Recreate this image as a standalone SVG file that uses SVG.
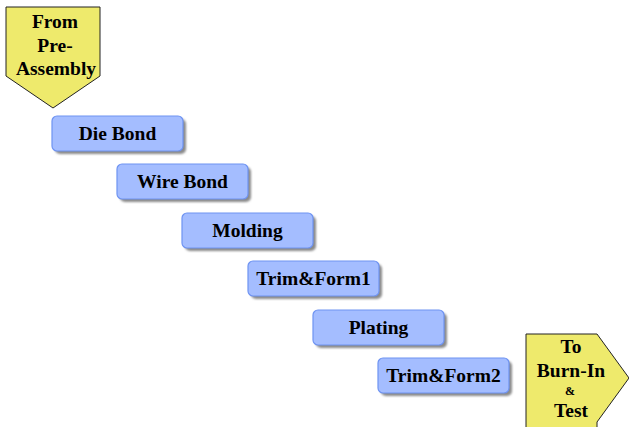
<svg xmlns="http://www.w3.org/2000/svg" width="629" height="427" viewBox="0 0 629 427">
<style>
.box{fill:#a4bdff;stroke:#6e93f2;stroke-width:1.2}
.shadow{fill:#8a8a8a}
.lbl{font-family:"Liberation Serif","Times New Roman",serif;font-weight:bold;font-size:19.5px;fill:#000;text-anchor:middle}
.tag{fill:#eeea6c;stroke:#222;stroke-width:1}
.sm{font-size:12px}
</style>
<defs>
<filter id="blur" x="-10%" y="-20%" width="120%" height="140%"><feGaussianBlur stdDeviation="1"/></filter>
</defs>
<rect width="629" height="427" fill="#fff"/>
<g id="from">
<polygon class="tag" points="6,7 100,7 100,76 53,108 6,76"/>
<text class="lbl" x="55" y="28">From</text>
<text class="lbl" x="55" y="52">Pre-</text>
<text class="lbl" x="56" y="75">Assembly</text>
</g>
<g id="diebond">
<rect class="shadow" x="55" y="119" width="131" height="35" rx="5" filter="url(#blur)"/>
<rect class="box" x="52" y="116" width="131" height="35" rx="5"/>
<text class="lbl" x="117.5" y="140">Die Bond</text>
</g>
<g id="wirebond">
<rect class="shadow" x="120" y="167" width="131" height="35" rx="5" filter="url(#blur)"/>
<rect class="box" x="117" y="164" width="131" height="35" rx="5"/>
<text class="lbl" x="182.5" y="188">Wire Bond</text>
</g>
<g id="molding">
<rect class="shadow" x="185" y="216" width="131" height="35" rx="5" filter="url(#blur)"/>
<rect class="box" x="182" y="213" width="131" height="35" rx="5"/>
<text class="lbl" x="247.5" y="237">Molding</text>
</g>
<g id="trimform1">
<rect class="shadow" x="251" y="264" width="131" height="35" rx="5" filter="url(#blur)"/>
<rect class="box" x="248" y="261" width="131" height="35" rx="5"/>
<text class="lbl" x="313.5" y="285">Trim&amp;Form1</text>
</g>
<g id="plating">
<rect class="shadow" x="316" y="313" width="131" height="35" rx="5" filter="url(#blur)"/>
<rect class="box" x="313" y="310" width="131" height="35" rx="5"/>
<text class="lbl" x="378.5" y="334">Plating</text>
</g>
<g id="trimform2">
<rect class="shadow" x="381" y="361" width="131" height="35" rx="5" filter="url(#blur)"/>
<rect class="box" x="378" y="358" width="131" height="35" rx="5"/>
<text class="lbl" x="443.5" y="382">Trim&amp;Form2</text>
</g>
<g id="to">
<polygon class="tag" points="526,334 597,334 629,378 597,422 597,432 526,432"/>
<text class="lbl" x="571" y="353">To</text>
<text class="lbl" x="571" y="377">Burn-In</text>
<text class="lbl sm" x="570" y="395">&amp;</text>
<text class="lbl" x="571" y="417">Test</text>
</g>
<g id="connectors"></g>
</svg>
